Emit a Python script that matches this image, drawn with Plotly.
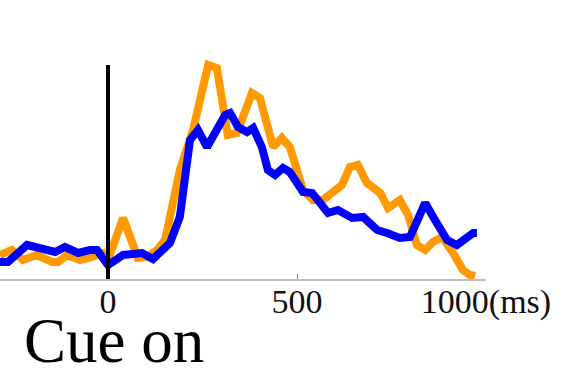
import plotly.graph_objects as go

# Time axis (ms relative to cue onset) and firing rates for the two conditions
t_orange = [-286, -254, -225, -188, -148, -132, -108, -74, -42, -13, 0, 40, 79, 103, 130, 151,
            190, 225, 265, 288, 317, 341, 381, 402, 437, 460, 481, 500, 516, 542, 569, 619,
            640, 661, 685, 720, 741, 772, 794, 817, 839, 860, 884, 913, 939, 958, 971]
rate_orange = [4.8, 5.8, 3.8, 4.8, 3.4, 3.4, 4.8, 3.8, 4.4, 5.2, 3.8, 12.2, 4.2, 4.4, 5.8, 7.8,
               21.8, 29.8, 42.8, 42.2, 28.8, 29.2, 37.2, 36.2, 26.4, 28.2, 26.4, 21.2, 17.8, 15.8, 15.8, 18.8,
               22.4, 22.8, 19.2, 17.2, 14.2, 15.8, 12.8, 6.8, 5.8, 7.4, 8.4, 5.2, 1.8, 0.8, 0.6]

t_blue = [-286, -265, -214, -153, -140, -114, -79, -48, -29, 0, 40, 90, 119, 164, 190, 217,
          238, 262, 288, 310, 323, 344, 368, 384, 407, 423, 442, 463, 481, 500, 516, 540,
          556, 582, 608, 646, 675, 712, 738, 772, 799, 839, 865, 897, 923, 944, 966, 976]
rate_blue = [3.4, 3.4, 6.8, 5.4, 5.4, 6.4, 5.2, 5.8, 5.8, 2.8, 4.8, 5.2, 4.0, 7.2, 12.4, 27.8,
             29.8, 26.4, 29.8, 32.8, 33.2, 30.4, 29.4, 30.2, 26.4, 21.8, 20.8, 22.2, 21.4, 19.2, 17.4, 17.2,
             15.8, 13.2, 13.8, 12.2, 12.4, 9.8, 9.2, 8.2, 8.4, 15.2, 11.8, 7.8, 6.8, 7.8, 9.2, 9.2]

tick_vals = [0, 500, 1000]
tick_text = ["0", "500", "1000(ms)"]
cue_time = 0
cue_top = 42.8

fig = go.Figure()
fig.add_trace(go.Scatter(x=t_orange, y=rate_orange, mode="lines",
                         line=dict(color="#FF9900", width=8), showlegend=False))
fig.add_trace(go.Scatter(x=t_blue, y=rate_blue, mode="lines",
                         line=dict(color="#0000FF", width=8), showlegend=False))

# cue onset marker
fig.add_shape(type="line", x0=cue_time, x1=cue_time, y0=0, y1=cue_top,
              xref="x", yref="y", line=dict(color="black", width=4), layer="above")

fig.add_annotation(text="Cue on", xref="paper", yref="paper", x=0.045, y=-0.275,
                   xanchor="left", yanchor="middle", showarrow=False,
                   font=dict(family="Liberation Serif", size=63, color="black"))

fig.update_layout(
    width=576, height=375,
    margin=dict(l=0, r=90, t=55, b=96),
    paper_bgcolor="white", plot_bgcolor="white",
    xaxis=dict(range=[-285.7, 1000], showgrid=False, zeroline=False,
               showline=True, linecolor="#c0c0c0", linewidth=2,
               tickmode="array", tickvals=tick_vals, ticktext=tick_text,
               ticks="inside", ticklen=5, tickcolor="#888888", tickwidth=1,
               ticklabelstandoff=-9,
               tickfont=dict(family="Liberation Serif", size=34, color="#111111")),
    yaxis=dict(range=[0, 44.8], visible=False),
)

fig.write_html("out.html")
